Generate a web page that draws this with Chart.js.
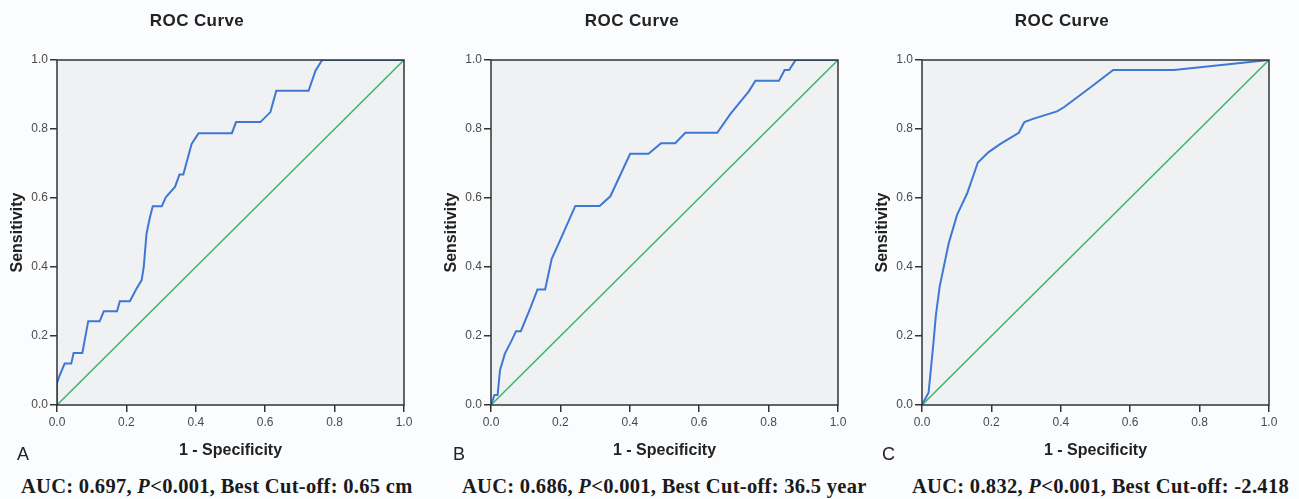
<!DOCTYPE html>
<html>
<head>
<meta charset="utf-8">
<script src="https://cdn.jsdelivr.net/npm/chart.js@4.4.0/dist/chart.umd.min.js"></script>
<style>
  body { margin: 0; background: #fbfcfe; width: 1299px; height: 499px; overflow: hidden; position: relative; font-family: "Liberation Sans", Arial, sans-serif; }
  .panel { position: absolute; top: 0; width: 430px; height: 460px; }
  .title { position: absolute; top: 12px; width: 200px; text-align: center; font-weight: bold; font-size: 17px; line-height: 17px; letter-spacing: 0.4px; color: #222; }
  .letter { position: absolute; top: 445px; font-size: 18px; line-height: 18px; color: #222; }
  .auc { position: absolute; top: 476px; font-family: "Liberation Serif", "Times New Roman", serif; font-weight: bold; font-size: 20.5px; line-height: 20px; letter-spacing: 0.3px; color: #1a1a1a; white-space: nowrap; }
</style>
</head>
<body>
  <canvas id="rocA" class="panel" width="430" height="460" style="left:0px"></canvas>
  <canvas id="rocB" class="panel" width="430" height="460" style="left:434px"></canvas>
  <canvas id="rocC" class="panel" width="430" height="460" style="left:865px"></canvas>

  <div class="title" style="left:97px">ROC Curve</div>
  <div class="title" style="left:532px">ROC Curve</div>
  <div class="title" style="left:962px">ROC Curve</div>

  <div class="letter" style="left:17px">A</div>
  <div class="letter" style="left:453px">B</div>
  <div class="letter" style="left:882px">C</div>

  <div class="auc" style="left:21px">AUC: 0.697, <i>P</i>&lt;0.001, Best Cut-off: 0.65 cm</div>
  <div class="auc" style="left:462px">AUC: 0.686, <i>P</i>&lt;0.001, Best Cut-off: 36.5 year</div>
  <div class="auc" style="left:912px">AUC: 0.832, <i>P</i>&lt;0.001, Best Cut-off: -2.418</div>

<script>
// tick values / labels shared by both axes
const tickValues = [0, 0.2, 0.4, 0.6, 0.8, 1.0];
const tickLabels = ['0.0', '0.2', '0.4', '0.6', '0.8', '1.0'];

// reference line
const diagX = [0, 1];
const diagY = [0, 1];

// A - 1-specificity / sensitivity
const aFpr = [0, 0, 0.008, 0.022, 0.041, 0.048, 0.073, 0.09, 0.123, 0.135, 0.173, 0.181, 0.21, 0.229, 0.244, 0.25, 0.258, 0.268, 0.276, 0.302, 0.314, 0.34, 0.353, 0.364, 0.388, 0.408, 0.504, 0.516, 0.586, 0.615, 0.632, 0.725, 0.745, 0.764, 1];
const aTpr = [0, 0.063, 0.087, 0.12, 0.12, 0.151, 0.151, 0.243, 0.243, 0.272, 0.272, 0.301, 0.301, 0.337, 0.362, 0.40, 0.497, 0.545, 0.576, 0.576, 0.603, 0.632, 0.668, 0.668, 0.757, 0.788, 0.788, 0.82, 0.82, 0.849, 0.911, 0.911, 0.969, 1, 1];

// B
const bFpr = [0, 0.01, 0.019, 0.026, 0.04, 0.06, 0.072, 0.086, 0.113, 0.134, 0.156, 0.175, 0.199, 0.243, 0.313, 0.344, 0.401, 0.454, 0.49, 0.531, 0.56, 0.652, 0.69, 0.743, 0.762, 0.83, 0.846, 0.859, 0.878, 1];
const bTpr = [0, 0.029, 0.029, 0.101, 0.149, 0.188, 0.214, 0.214, 0.28, 0.335, 0.335, 0.424, 0.477, 0.577, 0.577, 0.605, 0.728, 0.728, 0.759, 0.759, 0.789, 0.789, 0.844, 0.909, 0.94, 0.94, 0.971, 0.971, 1, 1];

// C
const cFpr = [0, 0.019, 0.033, 0.04, 0.051, 0.077, 0.101, 0.13, 0.161, 0.192, 0.226, 0.279, 0.295, 0.322, 0.389, 0.409, 0.486, 0.551, 0.726, 1];
const cTpr = [0, 0.036, 0.18, 0.26, 0.344, 0.469, 0.551, 0.613, 0.703, 0.733, 0.757, 0.789, 0.82, 0.83, 0.851, 0.863, 0.921, 0.971, 0.971, 1];

const toPoints = (xs, ys) => xs.map((x, i) => ({ x: x, y: ys[i] }));

// grey plot area + dark frame, SPSS style
const plotFrame = {
  id: 'plotFrame',
  beforeDatasetsDraw(chart) {
    const { ctx, chartArea: a } = chart;
    ctx.save();
    ctx.fillStyle = '#eff1f3';
    ctx.fillRect(a.left, a.top, a.width, a.height);
    ctx.restore();
  },
  afterDraw(chart) {
    const { ctx, chartArea: a } = chart;
    ctx.save();
    ctx.strokeStyle = '#333';
    ctx.lineWidth = 1.5;
    ctx.strokeRect(a.left, a.top, a.width, a.height);
    ctx.restore();
  }
};

function axisOptions(title, isX) {
  return {
    type: 'linear',
    min: 0,
    max: 1,
    afterBuildTicks: axis => { axis.ticks = tickValues.map(v => ({ value: v })); },
    afterFit: scale => {
      if (isX) scale.height = 55; else scale.width = 57;
    },
    border: { display: false },
    grid: { drawOnChartArea: false, drawTicks: true, tickLength: 7, color: '#333', lineWidth: 1.5 },
    ticks: {
      padding: isX ? 3 : 2,
      color: '#4a4a4a',
      font: { family: 'Liberation Sans', size: 12 },
      maxRotation: 0,
      callback: (v, i) => tickLabels[i]
    },
    title: {
      display: true,
      text: title,
      color: '#222',
      font: { family: 'Liberation Sans', size: 16, weight: 'bold' },
      padding: isX ? { top: 0, bottom: 0 } : { top: 8, bottom: 0 }
    }
  };
}

function drawRoc(id, fpr, tpr) {
  const ctx = document.getElementById(id).getContext('2d');
  new Chart(ctx, {
    type: 'line',
    data: {
      datasets: [
        {
          label: 'ROC',
          data: toPoints(fpr, tpr),
          borderColor: '#3d78d4',
          borderWidth: 2,
          pointRadius: 0,
          tension: 0,
          fill: false
        },
        {
          label: 'Reference',
          data: toPoints(diagX, diagY),
          borderColor: '#3bb56c',
          borderWidth: 1.5,
          pointRadius: 0,
          tension: 0,
          fill: false
        }
      ]
    },
    options: {
      responsive: false,
      animation: false,
      layout: { padding: { top: 60, right: 26, left: 0, bottom: 0 } },
      plugins: { legend: { display: false }, tooltip: { enabled: false } },
      scales: {
        x: axisOptions('1 - Specificity', true),
        y: axisOptions('Sensitivity', false)
      }
    },
    plugins: [plotFrame]
  });
}

drawRoc('rocA', aFpr, aTpr);
drawRoc('rocB', bFpr, bTpr);
drawRoc('rocC', cFpr, cTpr);
</script>
</body>
</html>
